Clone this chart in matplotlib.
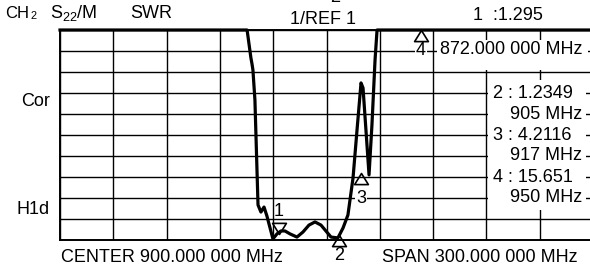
import numpy as np
import matplotlib
matplotlib.use("Agg")
import matplotlib.pyplot as plt
from matplotlib.patches import Rectangle
from matplotlib.path import Path

plt.rcParams["font.family"] = ["Liberation Sans", "DejaVu Sans"]
plt.rcParams["mathtext.fontset"] = "custom"
plt.rcParams["mathtext.rm"] = "Liberation Sans"
plt.rcParams["mathtext.it"] = "Liberation Sans"

# SWR trace (frequency in MHz, SWR; top of screen = 11)
trace_freq = [751.7, 854.5, 856.6, 857.2, 857.7, 858.8, 860.5, 862.1, 863.8, 865.4,
              868.7, 870.9, 873.1, 875.3, 878.1, 881.9, 885.2, 888.5, 891.8, 895.1,
              897.8, 900.6, 904.4, 907.2, 909.9, 912.7, 914.9, 917.1, 918.2, 919.8,
              921.5, 923.1, 924.8, 925.9, 1050]
trace_swr = [11, 11, 9.67, 9.38, 9.1, 7.67, 2.67, 2.33, 2.57, 2.14,
             1.05, 1.29, 1.43, 1.43, 1.29, 1.14, 1.38, 1.71, 1.86, 1.71,
             1.43, 1.14, 1.10, 1.57, 2.19, 3.95, 6.24, 8.48, 8.24, 6.24,
             4.1, 6.48, 9.57, 11, 11]

# markers
marker_no = [1, 2, 3, 4]
marker_freq = [872, 905, 917, 950]
marker_swr = [1.295, 1.2349, 4.2116, 15.651]
marker_swr_text = ["1.295", "1.2349", "4.2116", "15.651"]

W, H = 590, 271
FS = 13


def px(x, y):
    return x / W, 1 - y / H


fig = plt.figure(figsize=(W / 100, H / 100), dpi=100)
fig.patch.set_facecolor("white")

# screen: 10 x 10 divisions, right edge runs just past the image
ax = fig.add_axes([60 / W, 31 / H, 533 / W, 210 / H])
f_lo, f_hi = 751.7, 751.7 + 533 / 1.82
ax.set_xlim(f_lo, f_hi)
ax.set_ylim(1, 11)
ax.set_xticks(np.linspace(f_lo, f_hi, 11))
ax.set_yticks(np.arange(1, 12))
ax.tick_params(length=0, labelbottom=False, labelleft=False)
ax.grid(True, color="black", linewidth=1.0)
for s in ax.spines.values():
    s.set_linewidth(1.4)
    s.set_color("black")

ax.plot(trace_freq, trace_swr, color="black", linewidth=2.3, zorder=4,
        solid_joinstyle="round", clip_on=False)

# marker triangles, apex sitting on the trace point
tri_up = Path([(0, 0), (-0.62, -1), (0.62, -1), (0, 0)],
              [Path.MOVETO, Path.LINETO, Path.LINETO, Path.CLOSEPOLY])
tri_dn = Path([(0, 0), (-0.62, 1), (0.62, 1), (0, 0)],
              [Path.MOVETO, Path.LINETO, Path.LINETO, Path.CLOSEPOLY])
label_off = {1: (0, 16), 2: (0, -15), 3: (0, -19), 4: (0, -15)}
for n, f, v in zip(marker_no, marker_freq, marker_swr):
    v = min(v, 11)
    ax.plot([f], [v], marker=tri_dn if n == 1 else tri_up, markersize=16,
            fillstyle="none", markeredgecolor="black",
            markeredgewidth=1.2, zorder=9, clip_on=False)
    bbox = None
    if n in (3, 4):
        bbox = dict(boxstyle="square,pad=0.05", fc="white", ec="none")
    ax.annotate(str(n), (f, v), xytext=label_off[n], textcoords="offset points",
                ha="center", va="center", fontsize=FS, zorder=7,
                annotation_clip=False, bbox=bbox)

# white boxes behind the marker readouts
for x0, y0, x1, y1 in [(437, 40, 588, 70), (488, 80, 586, 210)]:
    ax.add_patch(Rectangle(px(x0, y1), (x1 - x0) / W, (y1 - y0) / H,
                           transform=fig.transFigure, facecolor="white",
                           edgecolor="none", zorder=5, clip_on=False))

# header
fig.text(*px(5, 13), "CH", fontsize=FS - 1, va="center")
fig.text(*px(30, 16), "2", fontsize=FS * 0.6, va="center")
fig.text(*px(50, 13), r"S$\mathregular{_{22}}$/M", fontsize=FS, va="center")
fig.text(*px(130, 13), "SWR", fontsize=FS, va="center")
fig.text(*px(290, 20), "1/REF 1", fontsize=FS, va="center")
fig.text(*px(335, -3), "2", fontsize=FS, va="center", ha="center")
fig.text(*px(473, 16), "1  :1.295", fontsize=FS, va="center")

# marker readouts
fig.text(*px(440, 50), f"{marker_freq[0]}.000 000 MHz", fontsize=FS,
         va="center", zorder=8)
y = 93
for n, f, t in zip(marker_no[1:], marker_freq[1:], marker_swr_text[1:]):
    fig.text(*px(493, y), f"{n} : {t}", fontsize=FS, va="center", zorder=8)
    fig.text(*px(582, y + 21), f"{f} MHz", fontsize=FS, va="center",
             ha="right", zorder=8)
    y += 42

# left side annotations
fig.text(*px(50, 101), "Cor", fontsize=FS, va="center", ha="right")
fig.text(*px(50, 209), "H1d", fontsize=FS, va="center", ha="right")

# footer
fig.text(*px(61, 257), "CENTER 900.000 000 MHz", fontsize=FS, va="center")
fig.text(*px(382, 257), "SPAN 300.000 000 MHz", fontsize=FS, va="center")

fig.savefig("out.png", dpi=100, facecolor="white")
